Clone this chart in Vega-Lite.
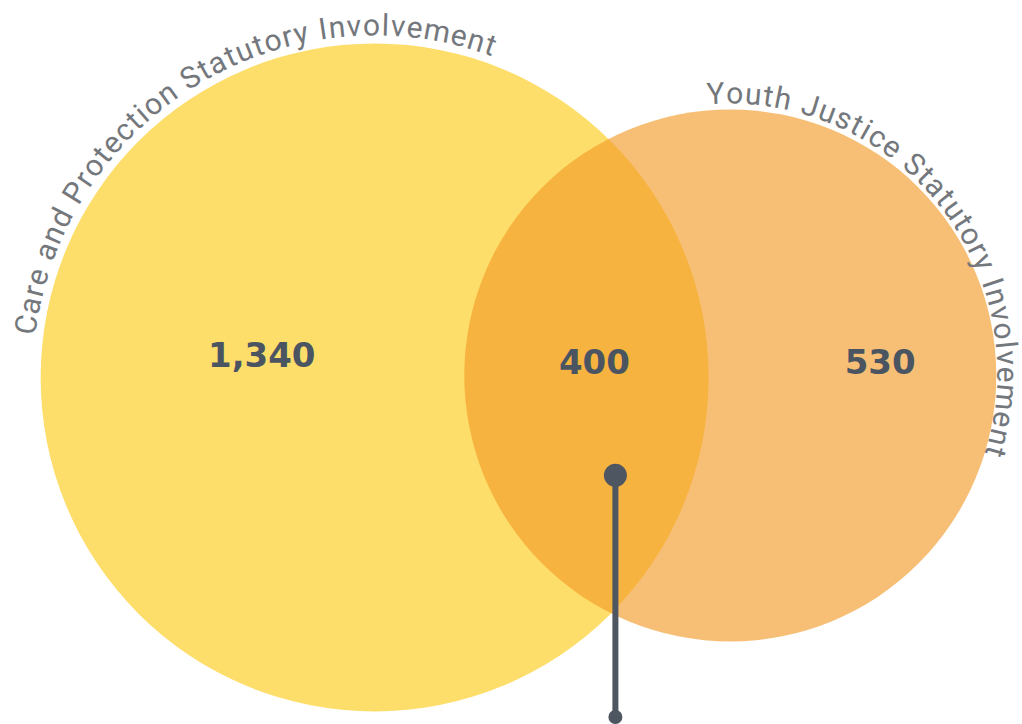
{
  "$schema": "https://vega.github.io/schema/vega-lite/v6.json",
  "width": 1022,
  "height": 724,
  "autosize": {"type": "fit", "contains": "padding"},
  "padding": 0,
  "background": "white",
  "config": {"view": {"stroke": null}},
  "datasets": {
    "sets": [
      {"set": "Care and Protection Statutory Involvement", "cx": 375, "cy": 378, "total": 1740},
      {"set": "Youth Justice Statutory Involvement", "cx": 731, "cy": 376, "total": 930}
    ],
    "counts": [
      {"label": "1,340", "x": 262, "y": 368},
      {"label": "400", "x": 595, "y": 375},
      {"label": "530", "x": 881, "y": 375}
    ],
    "pointer": [{"x": 616, "y1": 476, "y2": 718}],
    "careLabel": [
      {"c": "C", "deg": -81.37}, {"c": "a", "deg": -78.20}, {"c": "r", "deg": -75.76}, {"c": "e", "deg": -73.36},
      {"c": "a", "deg": -68.94}, {"c": "n", "deg": -66.00}, {"c": "d", "deg": -63.02},
      {"c": "P", "deg": -58.32}, {"c": "r", "deg": -55.68}, {"c": "o", "deg": -53.18}, {"c": "t", "deg": -50.71},
      {"c": "e", "deg": -48.33}, {"c": "c", "deg": -45.49}, {"c": "t", "deg": -43.13}, {"c": "i", "deg": -41.43},
      {"c": "o", "deg": -39.15}, {"c": "n", "deg": -36.15},
      {"c": "S", "deg": -31.56}, {"c": "t", "deg": -29.03}, {"c": "a", "deg": -26.62}, {"c": "t", "deg": -24.21},
      {"c": "u", "deg": -21.78}, {"c": "t", "deg": -19.35}, {"c": "o", "deg": -16.88}, {"c": "r", "deg": -14.38},
      {"c": "y", "deg": -12.11},
      {"c": "I", "deg": -8.47}, {"c": "n", "deg": -6.16}, {"c": "v", "deg": -3.37}, {"c": "o", "deg": -0.52},
      {"c": "l", "deg": 1.75}, {"c": "v", "deg": 3.82}, {"c": "e", "deg": 6.57}, {"c": "m", "deg": 10.24},
      {"c": "e", "deg": 13.90}, {"c": "n", "deg": 16.81}, {"c": "t", "deg": 19.24}
    ],
    "youthLabel": [
      {"c": "Y", "deg": -2.60}, {"c": "o", "deg": 1.35}, {"c": "u", "deg": 5.16}, {"c": "t", "deg": 8.26},
      {"c": "h", "deg": 11.35},
      {"c": "J", "deg": 17.08}, {"c": "u", "deg": 20.84}, {"c": "s", "deg": 24.49}, {"c": "t", "deg": 27.48},
      {"c": "i", "deg": 29.67}, {"c": "c", "deg": 32.43}, {"c": "e", "deg": 36.04},
      {"c": "S", "deg": 41.83}, {"c": "t", "deg": 45.05}, {"c": "a", "deg": 48.12}, {"c": "t", "deg": 51.20},
      {"c": "u", "deg": 54.29}, {"c": "t", "deg": 57.39}, {"c": "o", "deg": 60.54}, {"c": "r", "deg": 63.72},
      {"c": "y", "deg": 66.61},
      {"c": "I", "deg": 71.29}, {"c": "n", "deg": 74.22}, {"c": "v", "deg": 77.78}, {"c": "o", "deg": 81.39},
      {"c": "l", "deg": 84.30}, {"c": "v", "deg": 86.95}, {"c": "e", "deg": 90.44}, {"c": "m", "deg": 95.09},
      {"c": "e", "deg": 99.73}, {"c": "n", "deg": 103.43}, {"c": "t", "deg": 106.52}
    ]
  },
  "layer": [
    {
      "data": {"name": "sets"},
      "mark": {"type": "point", "shape": "circle", "filled": true, "strokeWidth": 0, "opacity": 1},
      "encoding": {
        "x": {"field": "cx", "type": "quantitative", "scale": {"domain": [0, 1022], "nice": false, "zero": false}, "axis": null},
        "y": {"field": "cy", "type": "quantitative", "scale": {"domain": [0, 724], "nice": false, "zero": false, "reverse": true}, "axis": null},
        "size": {"field": "total", "type": "quantitative", "scale": {"domain": [930, 1740], "range": [283024, 446224], "zero": false}, "legend": null},
        "color": {"field": "set", "type": "nominal", "scale": {"domain": ["Care and Protection Statutory Involvement", "Youth Justice Statutory Involvement"], "range": ["#FEDE6A", "#F39A26A1"]}, "legend": null}
      }
    },
    {
      "data": {"name": "careLabel"},
      "mark": {"type": "text", "font": "Roboto", "fontSize": 30, "color": "#74787D", "align": "center", "baseline": "alphabetic", "radius": 342},
      "encoding": {
        "x": {"datum": 375, "type": "quantitative", "scale": {"domain": [0, 1022], "nice": false, "zero": false}, "axis": null},
        "y": {"datum": 378, "type": "quantitative", "scale": {"domain": [0, 724], "nice": false, "zero": false, "reverse": true}, "axis": null},
        "theta": {"field": "deg", "type": "quantitative", "stack": false, "scale": {"domain": [0, 360], "range": [0, 6.283185307179586], "zero": false, "nice": false}},
        "angle": {"field": "deg", "type": "quantitative", "scale": {"domain": [0, 360], "range": [0, 360], "zero": false, "nice": false}, "legend": null},
        "text": {"field": "c"}
      }
    },
    {
      "data": {"name": "youthLabel"},
      "mark": {"type": "text", "font": "Roboto", "fontSize": 30, "color": "#74787D", "align": "center", "baseline": "alphabetic", "radius": 269},
      "encoding": {
        "x": {"datum": 729, "type": "quantitative", "scale": {"domain": [0, 1022], "nice": false, "zero": false}, "axis": null},
        "y": {"datum": 373, "type": "quantitative", "scale": {"domain": [0, 724], "nice": false, "zero": false, "reverse": true}, "axis": null},
        "theta": {"field": "deg", "type": "quantitative", "stack": false, "scale": {"domain": [0, 360], "range": [0, 6.283185307179586], "zero": false, "nice": false}},
        "angle": {"field": "deg", "type": "quantitative", "scale": {"domain": [0, 360], "range": [0, 360], "zero": false, "nice": false}, "legend": null},
        "text": {"field": "c"}
      }
    },
    {
      "data": {"name": "counts"},
      "mark": {"type": "text", "font": "DejaVu Sans", "fontWeight": "bold", "fontSize": 34, "color": "#4A5561", "align": "center", "baseline": "alphabetic"},
      "encoding": {
        "x": {"field": "x", "type": "quantitative", "scale": {"domain": [0, 1022], "nice": false, "zero": false}, "axis": null},
        "y": {"field": "y", "type": "quantitative", "scale": {"domain": [0, 724], "nice": false, "zero": false, "reverse": true}, "axis": null},
        "text": {"field": "label"}
      }
    },
    {
      "data": {"name": "pointer"},
      "mark": {"type": "rule", "color": "#4D5661", "strokeWidth": 6},
      "encoding": {
        "x": {"field": "x", "type": "quantitative", "scale": {"domain": [0, 1022], "nice": false, "zero": false}, "axis": null},
        "y": {"field": "y1", "type": "quantitative", "scale": {"domain": [0, 724], "nice": false, "zero": false, "reverse": true}, "axis": null},
        "y2": {"field": "y2"}
      }
    },
    {
      "data": {"name": "pointer"},
      "mark": {"type": "point", "shape": "circle", "filled": true, "opacity": 1, "color": "#4D5661", "size": 530, "strokeWidth": 0},
      "encoding": {
        "x": {"field": "x", "type": "quantitative", "scale": {"domain": [0, 1022], "nice": false, "zero": false}, "axis": null},
        "y": {"field": "y1", "type": "quantitative", "scale": {"domain": [0, 724], "nice": false, "zero": false, "reverse": true}, "axis": null}
      }
    },
    {
      "data": {"name": "pointer"},
      "mark": {"type": "point", "shape": "circle", "filled": true, "opacity": 1, "color": "#4D5661", "size": 196, "strokeWidth": 0},
      "encoding": {
        "x": {"field": "x", "type": "quantitative", "scale": {"domain": [0, 1022], "nice": false, "zero": false}, "axis": null},
        "y": {"field": "y2", "type": "quantitative", "scale": {"domain": [0, 724], "nice": false, "zero": false, "reverse": true}, "axis": null}
      }
    }
  ]
}
